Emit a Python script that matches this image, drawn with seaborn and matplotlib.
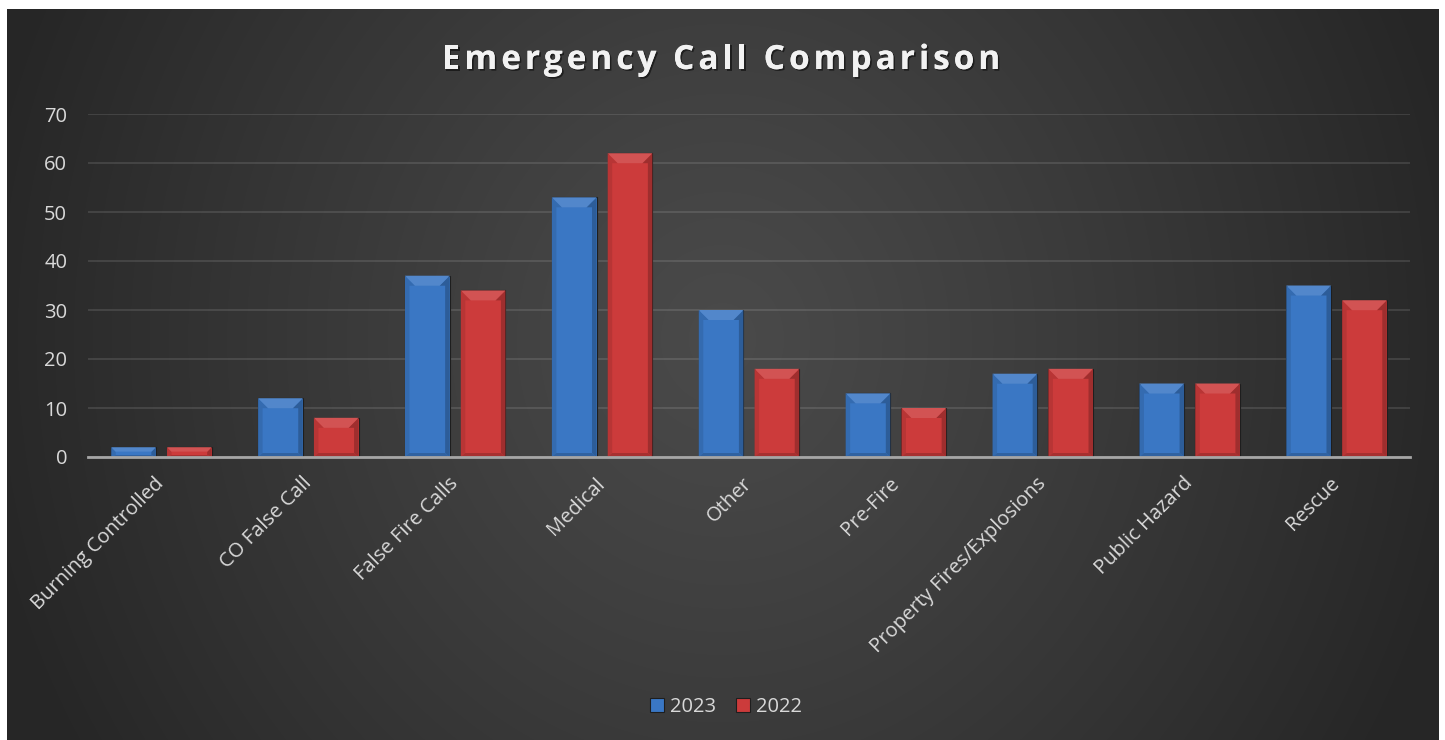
import numpy as np
import pandas as pd
import seaborn as sns
import matplotlib
matplotlib.use("Agg")
import matplotlib.pyplot as plt
from matplotlib.patches import Polygon, Patch
from matplotlib.colors import to_rgb
import matplotlib.patheffects as pe

# ---- data ----
categories = ["Burning Controlled", "CO False Call", "False Fire Calls", "Medical",
              "Other", "Pre-Fire", "Property Fires/Explosions", "Public Hazard", "Rescue"]
calls_2023 = [2, 12, 37, 53, 30, 13, 17, 15, 35]
calls_2022 = [2, 8, 34, 62, 18, 10, 18, 15, 32]
years = ["2023", "2022"]
y_ticks = [0, 10, 20, 30, 40, 50, 60, 70]
title = "Emergency Call Comparison"

colors = {"2023": "#3a77c4", "2022": "#cc3b3b"}
text_color = "#d9d9d9"

df = pd.DataFrame({
    "Category": categories * 2,
    "Year": [years[0]] * len(categories) + [years[1]] * len(categories),
    "Calls": calls_2023 + calls_2022,
})

plt.rcParams["font.family"] = ["Open Sans", "DejaVu Sans"]

W, H = 1445, 740
fig = plt.figure(figsize=(W / 100, H / 100), dpi=100, facecolor="white")

# ---- dark radial-gradient panel ----
px0, px1, py0 = 7, 1439, 9
pw, ph = px1 - px0, H - py0
bg = fig.add_axes([px0 / W, 0, pw / W, ph / H])
yy, xx = np.mgrid[0:ph, 0:pw]
r = np.sqrt(((xx - 715) / 760.0) ** 2 + ((yy - 330) / 820.0) ** 2)
lum = 0x4a - (0x4a - 0x26) * np.clip(r, 0, 1) ** 1.15
img = np.dstack([lum, lum, lum]) / 255.0
bg.imshow(img, aspect="auto", interpolation="bilinear")
bg.set_axis_off()

# ---- main axes ----
ax_l, ax_r, ax_t, ax_b = 88, 1410, 114, 457
ax = fig.add_axes([ax_l / W, (H - ax_b) / H, (ax_r - ax_l) / W, (ax_b - ax_t) / H])
ax.patch.set_alpha(0)

sns.barplot(data=df, x="Category", y="Calls", hue="Year", hue_order=years,
            palette=colors, saturation=1, width=0.76, gap=0.2, errorbar=None,
            edgecolor="#1e1e1e", linewidth=0.8, legend=False, ax=ax)

ax.set_xlim(-0.5, len(categories) - 0.5)
ax.set_ylim(0, 70)
ax.set_yticks(y_ticks)
ax.set_xlabel("")
ax.set_ylabel("")
ax.grid(axis="y", color="white", alpha=0.11, linewidth=1.5)
ax.grid(axis="x", visible=False)
ax.set_axisbelow(True)
for s in ["left", "right", "top"]:
    ax.spines[s].set_visible(False)
ax.spines["bottom"].set_color("#a6a6a6")
ax.spines["bottom"].set_linewidth(2)
ax.spines["bottom"].set_zorder(5)
ax.tick_params(axis="both", length=0, colors=text_color, labelsize=14.5)
ax.tick_params(axis="y", pad=15)
ax.tick_params(axis="x", pad=17)
for lab in ax.get_xticklabels():
    lab.set_rotation(45)
    lab.set_ha("right")
    lab.set_va("center")
    lab.set_rotation_mode("anchor")


def shade(c, f):
    c = np.array(to_rgb(c))
    if f >= 1:
        return tuple(c + (1 - c) * (f - 1))
    return tuple(c * f)


# ---- bevel shading on each bar ----
ppx = (ax_r - ax_l) / len(categories)
ppy = (ax_b - ax_t) / 70.0
for p in list(ax.patches):
    h = p.get_height()
    if h <= 0:
        continue
    base = p.get_facecolor()
    x0 = p.get_x()
    x1 = x0 + p.get_width()
    hpx = h * ppy
    bt = min(10.0, hpx * 0.45) / ppy
    bs = 4.5 / ppx
    bb = min(4.0, hpx * 0.2) / ppy
    tx = min(10.0, hpx * 0.45) / ppx
    top = Polygon([(x0, h), (x1, h), (x1 - tx, h - bt), (x0 + tx, h - bt)],
                  closed=True, facecolor=shade(base, 1.12), edgecolor="none", zorder=3)
    left = Polygon([(x0, h), (x0 + tx, h - bt), (x0 + bs, h - bt), (x0 + bs, bb), (x0, 0)],
                   closed=True, facecolor=shade(base, 0.9), edgecolor="none", zorder=3)
    right = Polygon([(x1, h), (x1 - tx, h - bt), (x1 - bs, h - bt), (x1 - bs, bb), (x1, 0)],
                    closed=True, facecolor=shade(base, 0.78), edgecolor="none", zorder=3)
    bottom = Polygon([(x0, 0), (x0 + bs, bb), (x1 - bs, bb), (x1, 0)],
                     closed=True, facecolor=shade(base, 0.82), edgecolor="none", zorder=3)
    for poly in (left, right, bottom, top):
        ax.add_patch(poly)
    p.set_zorder(2)

# ---- title with letter spacing ----
fig.canvas.draw()
renderer = fig.canvas.get_renderer()
tkw = dict(fontsize=24, fontweight="bold", color="#f2f2f2", family=["Open Sans", "DejaVu Sans"])


def text_width(s):
    t = fig.text(0, 0, s, **tkw)
    w = t.get_window_extent(renderer).width
    t.remove()
    return w


spacing = 4.0
total = text_width(title) + spacing * (len(title) - 1)
start = 721 - total / 2
for i, ch in enumerate(title):
    if ch == " ":
        continue
    left_px = text_width(title[:i + 1]) - text_width(ch) + spacing * i
    fig.text((start + left_px) / W, (H - 69) / H, ch, ha="left", va="baseline",
             path_effects=[pe.withSimplePatchShadow(offset=(1.2, -1.2), shadow_rgbFace="black", alpha=0.5),
                           pe.Normal()], **tkw)

# ---- legend ----
handles = [Patch(facecolor=colors[y], edgecolor="#1e1e1e", linewidth=0.8, label=y) for y in years]
fig.legend(handles=handles, loc="center", bbox_to_anchor=(726 / W, (H - 707) / H), ncol=2,
           frameon=False, fontsize=14.5, labelcolor=text_color, handlelength=0.7,
           handleheight=0.7, handletextpad=0.3, columnspacing=1.0)

fig.savefig("out.png", dpi=100, facecolor="white")
